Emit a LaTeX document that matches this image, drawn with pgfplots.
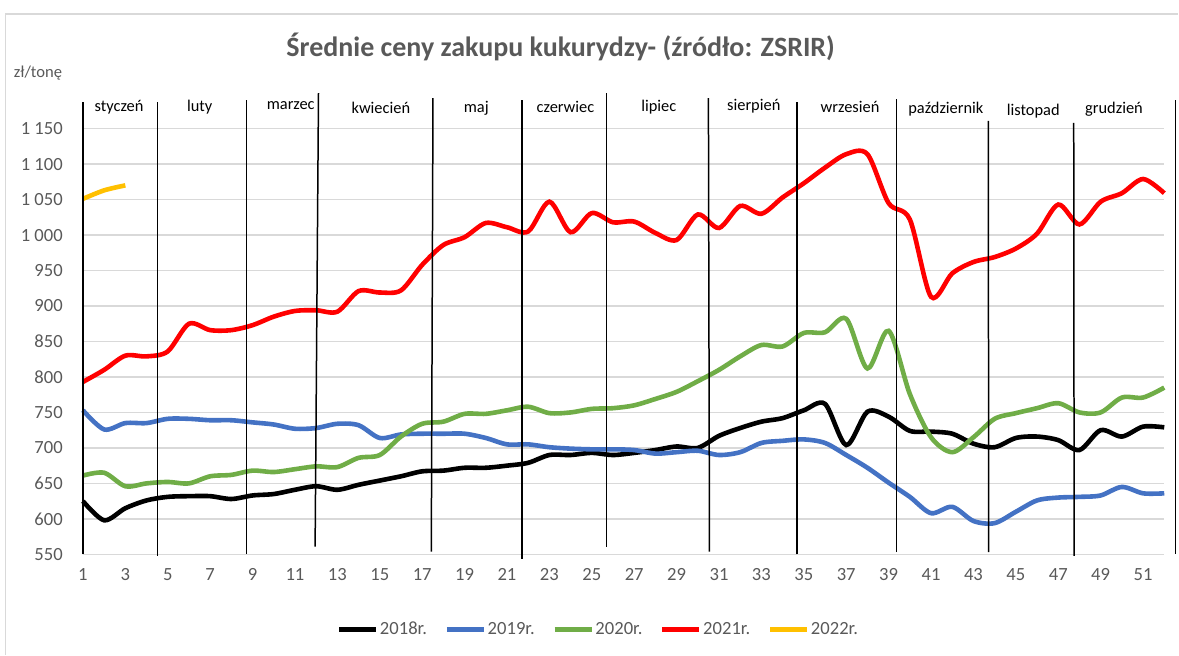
\documentclass[border=0pt]{standalone}
\usepackage{pgfplots}
\pgfplotsset{compat=1.18}
\usepackage{pgfplotstable}
\usepackage{fontspec}
\setmainfont{Carlito}

\definecolor{c2018}{HTML}{000000}
\definecolor{c2019}{HTML}{4472C4}
\definecolor{c2020}{HTML}{70AD47}
\definecolor{c2021}{HTML}{FF0000}
\definecolor{c2022}{HTML}{FFC000}
\definecolor{gridgray}{HTML}{D9D9D9}
\definecolor{txtgray}{HTML}{595959}

% tygodnie 1-52, ceny zl/tone
\pgfplotstableread{
week y2018 y2019 y2020 y2021
1  625 753 661  793
2  598 726 665  810
3  615 735 646  830
4  626 735 650  829
5  631 741 652  836
6  632 741 650  875
7  632 739 660  866
8  628 739 662  866
9  633 736 668  873
10 635 733 666  885
11 641 727 670  893
12 646 728 674  894
13 641 734 673  892
14 648 732 686  921
15 654 714 690  919
16 660 719 716  922
17 667 720 734  958
18 668 720 737  986
19 672 720 748  997
20 672 714 748  1017
21 675 705 753  1011
22 679 705 758  1005
23 690 701 749  1047
24 690 699 750  1004
25 693 698 755  1031
26 690 698 756  1018
27 693 697 760  1019
28 697 692 769  1003
29 702 694 779  993
30 700 696 794  1029
31 717 690 810  1010
32 728 694 829  1041
33 737 707 845  1030
34 742 710 843  1053
35 753 712 862  1073
36 762 707 863  1095
37 704 690 882  1114
38 751 672 812  1114
39 744 651 865  1045
40 724 631 776  1022
41 723 608 715  913
42 720 617 694  946
43 706 597 715  962
44 701 594 741  969
45 714 610 749  981
46 716 626 756  1002
47 711 630 763  1043
48 697 631 750  1015
49 725 633 750  1047
50 716 645 771  1059
51 730 636 771  1079
52 729 636 785  1059
}\ceny

\pgfplotstableread{
week y2022
1 1051
2 1063
3 1070
}\cenyNowe

\begin{document}
\begin{tikzpicture}
\begin{axis}[
    scale only axis, width=541pt, height=213pt,
    xmin=1, xmax=52, ymin=550, ymax=1150,
    xtick={1,3,...,51}, ytick={550,600,...,1150},
    axis line style={draw=none}, major tick length=0pt,
    ymajorgrids, grid style={color=gridgray, line width=0.7pt},
    clip=false,
    /pgf/number format/assume math mode=true,
    /pgf/number format/1000 sep={\ },
    tick label style={font=\fontsize{9.3}{11}\selectfont, text=txtgray},
    yticklabel style={xshift=-6.6pt},
    xticklabel style={yshift=-3.6pt},
    every axis plot/.append style={line width=2.3pt, smooth},
    legend columns=5,
    legend style={at={(0.4765,-0.177)}, anchor=center, draw=none, fill=none,
                  font=\fontsize{9.3}{11}\selectfont, text=txtgray,
                  nodes={inner sep=0.8pt},
                  /tikz/every even column/.append style={column sep=8pt}},
    legend image code/.code={\draw[#1] (0pt,0pt) -- (18.5pt,0pt);},
]
\addplot[c2018] table[x=week, y=y2018] {\ceny};
\addplot[c2019] table[x=week, y=y2019] {\ceny};
\addplot[c2020] table[x=week, y=y2020] {\ceny};
\addplot[c2021] table[x=week, y=y2021] {\ceny};
\addplot[c2022] table[x=week, y=y2022] {\cenyNowe};
\legend{2018r., 2019r., 2020r., 2021r., 2022r.}

% granice miesiecy
\draw[black, line width=0.75pt] (axis cs:1,550) -- (axis cs:1,1188);
\draw[black, line width=0.75pt] (axis cs:4.52,548) -- (axis cs:4.52,1188);
\draw[black, line width=0.75pt] (axis cs:8.71,551) -- (axis cs:8.71,1190);
\draw[black, line width=0.75pt] (axis cs:11.95,561) -- (axis cs:12.11,1200);
\draw[black, line width=0.75pt] (axis cs:17.43,554) -- (axis cs:17.51,1193);
\draw[black, line width=0.75pt] (axis cs:21.7,544) -- (axis cs:21.7,1190);
\draw[black, line width=0.75pt] (axis cs:25.7,561) -- (axis cs:25.7,1200);
\draw[black, line width=0.75pt] (axis cs:30.55,554) -- (axis cs:30.5,1193);
\draw[black, line width=0.75pt] (axis cs:34.67,550) -- (axis cs:34.67,1188);
\draw[black, line width=0.75pt] (axis cs:39.37,553) -- (axis cs:39.37,1192);
\draw[black, line width=0.75pt] (axis cs:43.72,553) -- (axis cs:43.7,1161);
\draw[black, line width=0.75pt] (axis cs:47.75,548) -- (axis cs:47.73,1158);
\draw[black, line width=0.75pt] (axis cs:52.54,551) -- (axis cs:52.54,1190);

% nazwy miesiecy
\begin{scope}[every node/.style={font=\fontsize{8.2}{10}\selectfont, text=black}]
\node at (axis cs:2.70,1180) {styczeń};
\node at (axis cs:6.51,1180) {luty};
\node at (axis cs:10.80,1183) {marzec};
\node at (axis cs:15.05,1179) {kwiecień};
\node at (axis cs:19.55,1178) {maj};
\node at (axis cs:23.76,1181) {czerwiec};
\node at (axis cs:28.16,1180) {lipiec};
\node at (axis cs:32.64,1182) {sierpień};
\node at (axis cs:37.18,1180) {wrzesień};
\node at (axis cs:41.70,1178) {październik};
\node at (axis cs:45.82,1174) {listopad};
\node at (axis cs:49.63,1177) {grudzień};
\end{scope}

\node[font=\fontsize{14}{17}\selectfont\bfseries, text=txtgray]
  at (rel axis cs:0.4418,1.1918) {Średnie ceny zakupu kukurydzy- (źródło: ZSRIR)};
\node[font=\fontsize{8.3}{10}\selectfont, text=txtgray]
  at (rel axis cs:-0.0416,1.1308) {zł/tonę};
\coordinate (O) at (rel axis cs:0,0);
\end{axis}
\begin{scope}[shift={(O)}]
\draw[gridgray, line width=0.75pt] (-38.65pt,-50.15pt) -- (-38.65pt,270.35pt) -- (548pt,270.35pt);
\path[use as bounding box] (-41.5pt,-50.15pt) rectangle (548pt,277.35pt);
\end{scope}
\end{tikzpicture}
\end{document}
